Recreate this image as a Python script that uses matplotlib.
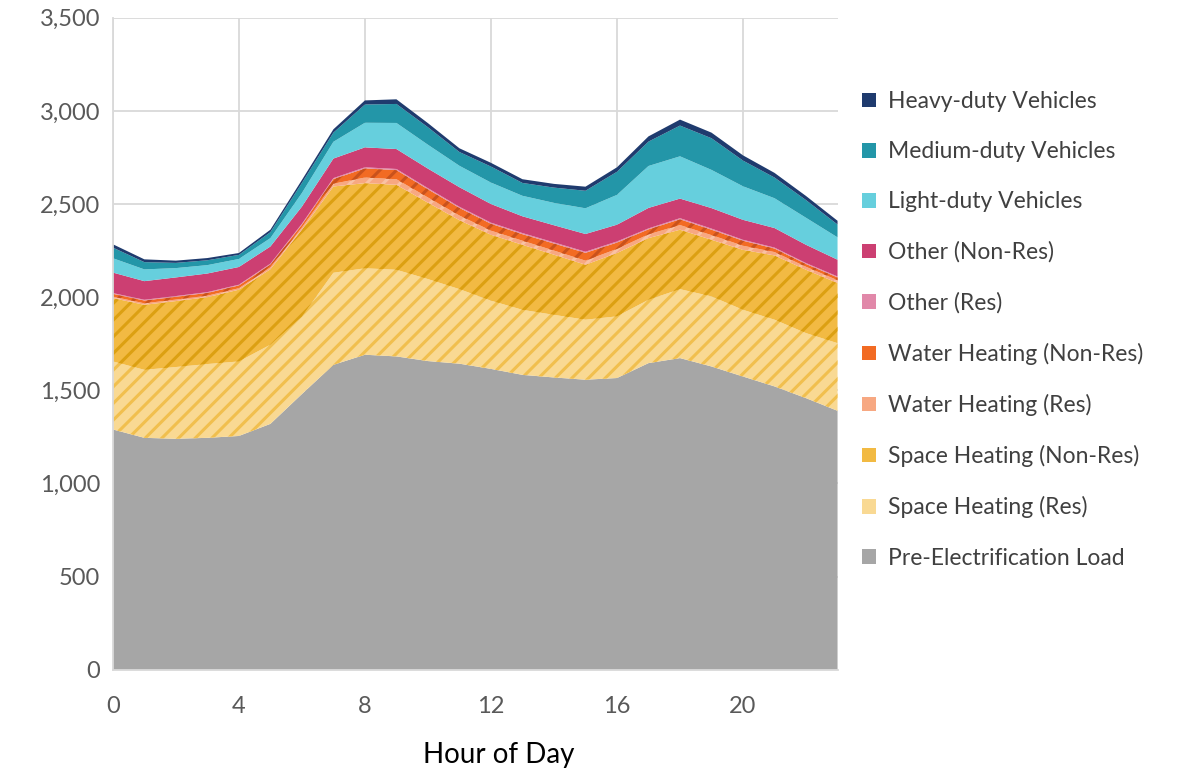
import matplotlib
matplotlib.use("Agg")
import matplotlib.pyplot as plt
from matplotlib.patches import Patch
from matplotlib.ticker import FuncFormatter
import numpy as np

hours = list(range(24))

pre_load = [1290, 1245, 1240, 1245, 1255, 1320, 1480, 1637, 1691, 1682, 1657, 1643,
            1615, 1583, 1569, 1557, 1566, 1646, 1673, 1628, 1574, 1521, 1458, 1390]
space_res = [365, 365, 385, 396, 400, 425, 416, 494, 464, 465, 440, 400,
             366, 349, 336, 322, 331, 340, 370, 376, 358, 358, 349, 363]
space_nonres = [340, 349, 354, 359, 385, 405, 466, 463, 457, 456, 410, 370,
                354, 349, 323, 295, 340, 331, 319, 304, 322, 345, 340, 323]
water_res = [8, 8, 8, 8, 8, 10, 12, 15, 30, 30, 28, 25,
             22, 22, 22, 22, 22, 20, 25, 25, 22, 18, 16, 15]
water_nonres = [15, 15, 15, 15, 15, 15, 15, 25, 49, 49, 44, 41,
                37, 35, 38, 42, 34, 27, 31, 29, 27, 19, 15, 15]
other_res = [4, 4, 4, 4, 4, 5, 5, 5, 6, 6, 6, 6,
             6, 6, 6, 6, 6, 5, 6, 6, 5, 5, 5, 5]
other_nonres = [110, 100, 100, 100, 95, 92, 92, 105, 107, 107, 105, 105,
                100, 90, 92, 95, 90, 110, 105, 110, 107, 105, 98, 90]
light_duty = [77, 63, 50, 45, 43, 45, 73, 90, 132, 140, 128, 115,
              115, 110, 120, 138, 160, 225, 227, 205, 180, 160, 145, 120]
medium_duty = [57, 39, 28, 26, 22, 32, 54, 49, 98, 102, 94, 74,
               86, 69, 82, 94, 124, 131, 165, 170, 138, 111, 95, 69]
heavy_duty = [18, 15, 12, 12, 10, 13, 16, 18, 22, 25, 22, 20,
              20, 20, 20, 22, 24, 28, 32, 30, 28, 25, 22, 20]

labels = ["Pre-Electrification Load", "Space Heating (Res)", "Space Heating (Non-Res)",
          "Water Heating (Res)", "Water Heating (Non-Res)", "Other (Res)",
          "Other (Non-Res)", "Light-duty Vehicles", "Medium-duty Vehicles",
          "Heavy-duty Vehicles"]
colors = ["#A6A6A6", "#F9D993", "#F2BA43", "#F7A882", "#F26B23", "#E188A9",
          "#CC3F72", "#66CFDD", "#2396A8", "#1F3B6E"]
# stripe colours for the hatched layers (None = plain fill)
hatch_colors = [None, "#F1BF4E", "#DCA012", "#F9C2A4", "#C9521C", None,
                None, None, None, None]

plt.rcParams['font.family'] = ['Lato', 'DejaVu Sans']
plt.rcParams['hatch.linewidth'] = 2.2

fig = plt.figure(figsize=(11.88, 7.69), dpi=100)
ax = fig.add_axes([0.095, 0.129, 0.61, 0.848])

series = [pre_load, space_res, space_nonres, water_res, water_nonres, other_res,
          other_nonres, light_duty, medium_duty, heavy_duty]
polys = ax.stackplot(hours, np.array(series), colors=colors, linewidth=0, zorder=2)
for poly, hc in zip(polys, hatch_colors):
    if hc is not None:
        poly.set_hatch('//')
        poly.set_edgecolor(hc)
        poly.set_linewidth(0)

ax.set_xlim(0, 23)
ax.set_ylim(0, 3500)
ax.set_xticks([0, 4, 8, 12, 16, 20])
ax.set_yticks(range(0, 3501, 500))
ax.yaxis.set_major_formatter(FuncFormatter(lambda v, p: f"{int(v):,}"))
ax.grid(True, color="#D9D9D9", linewidth=1.3, zorder=0)
ax.set_axisbelow(True)
for s in ["top", "right"]:
    ax.spines[s].set_visible(False)
for s in ["left", "bottom"]:
    ax.spines[s].set_color("#D9D9D9")
    ax.spines[s].set_linewidth(1.3)
ax.tick_params(length=0, labelsize=17, colors="#595959")
ax.tick_params(axis="x", pad=19)
ax.tick_params(axis="y", pad=9)
ax.set_xlabel("Hour of Day", fontsize=20, color="#000000", labelpad=18, x=0.532)

handles = [Patch(facecolor=c, edgecolor='none') for c in colors]
fig.legend(handles[::-1], labels[::-1], loc="center left",
           bbox_to_anchor=(0.726, 0.571), frameon=False, fontsize=16.5,
           labelcolor="#404040", handlelength=0.6, handleheight=0.6,
           handletextpad=0.5, labelspacing=1.27, borderpad=0, borderaxespad=0)

fig.savefig("out.png", dpi=100)
